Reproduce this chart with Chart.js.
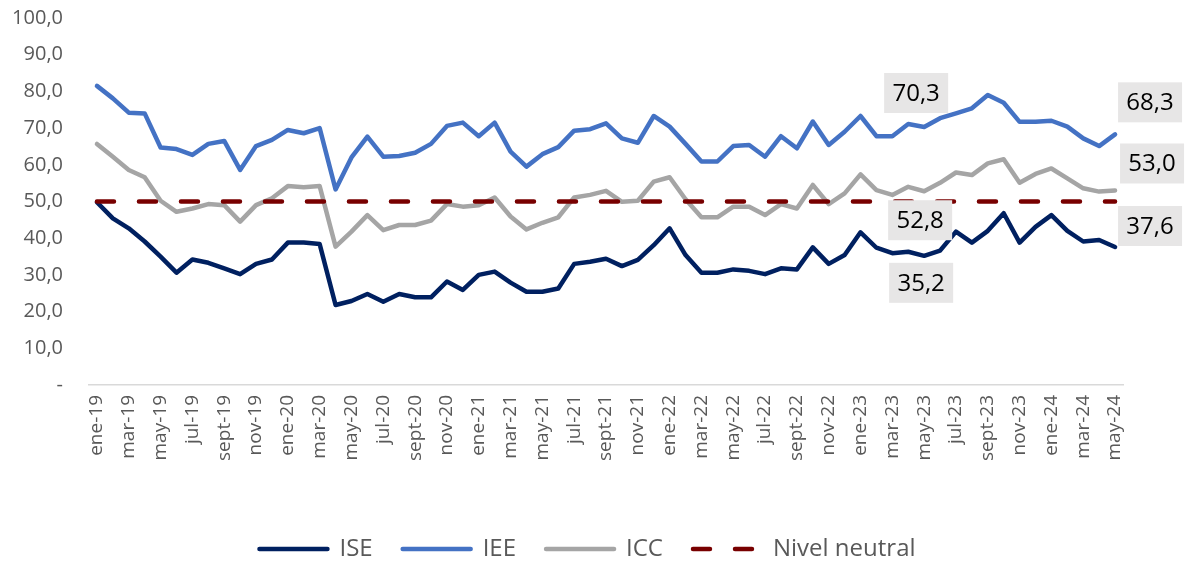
<!DOCTYPE html>
<html>
<head>
<meta charset="utf-8">
<script src="https://cdn.jsdelivr.net/npm/chart.js@4.4.1/dist/chart.umd.min.js"></script>
<style>
  html, body { margin: 0; padding: 0; background: #fff; }
  #wrap { width: 1186px; height: 563px; }
</style>
</head>
<body>
<div id="wrap"><canvas id="chart" width="1186" height="563"></canvas></div>
<script>
// meses ene-19 .. may-24
const meses = ['ene', 'feb', 'mar', 'abr', 'may', 'jun', 'jul', 'ago', 'sept', 'oct', 'nov', 'dic'];
const categorias = [];
for (let a = 19; a <= 24; a++) {
    for (let m = 0; m < 12; m++) {
        if (a === 24 && m > 4) break;
        categorias.push(meses[m] + '-' + a);
    }
}

const ise = [
    49.8, 45.4, 42.7, 39.1, 35.0, 30.6, 34.2, 33.3, 31.8, 30.2, 33.0, 34.2,
    38.8, 38.8, 38.4, 21.8, 22.9, 24.8, 22.7, 24.8, 23.9, 23.9, 28.2, 25.9,
    30.0, 30.9, 27.9, 25.4, 25.4, 26.3, 33.0, 33.6, 34.4, 32.4, 34.1, 38.1,
    42.7, 35.4, 30.6, 30.6, 31.5, 31.1, 30.2, 31.8, 31.5, 37.5, 33.0, 35.4,
    41.6, 37.4, 35.9, 36.3, 35.2, 36.6, 41.8, 38.8, 42.0, 46.8, 38.8, 43.1,
    46.3, 42.0, 39.1, 39.5, 37.6
];
const iee = [
    81.5, 78.1, 74.2, 74.0, 64.7, 64.3, 62.7, 65.7, 66.5, 58.6, 65.1, 66.8,
    69.5, 68.6, 70.0, 53.3, 62.0, 67.7, 62.2, 62.4, 63.3, 65.7, 70.6, 71.5,
    67.8, 71.5, 63.6, 59.5, 62.9, 64.8, 69.3, 69.7, 71.3, 67.2, 66.0, 73.3,
    70.4, 65.7, 60.9, 60.9, 65.1, 65.4, 62.2, 67.8, 64.5, 71.8, 65.4, 69.0,
    73.3, 67.8, 67.8, 71.1, 70.3, 72.7, 74.0, 75.4, 79.0, 76.9, 71.7, 71.7,
    72.0, 70.4, 67.2, 65.1, 68.3
];
const icc = [
    65.7, 62.2, 58.6, 56.6, 50.2, 47.2, 48.1, 49.3, 49.0, 44.5, 49.0, 50.9,
    54.2, 53.9, 54.2, 37.7, 41.8, 46.3, 42.2, 43.6, 43.6, 44.8, 49.3, 48.6,
    49.0, 51.1, 45.9, 42.4, 44.2, 45.7, 51.1, 51.8, 52.9, 49.9, 50.2, 55.4,
    56.6, 50.6, 45.7, 45.7, 48.6, 48.6, 46.3, 49.3, 48.1, 54.5, 49.3, 52.2,
    57.4, 53.1, 51.8, 54.0, 52.8, 55.1, 57.9, 57.2, 60.4, 61.5, 55.1, 57.5,
    59.0, 56.3, 53.6, 52.7, 53.0
];
const neutral = categorias.map(() => 50);

const yTicks = [0, 10, 20, 30, 40, 50, 60, 70, 80, 90, 100];

const fmt = v => v === 0 ? '-' : v.toFixed(1).replace('.', ',');

// etiquetas con fondo gris (dataset, índice, desplazamiento en px)
const etiquetas = [
    { ds: 1, i: 52, dx: -8, dy: -34 },
    { ds: 2, i: 52, dx: -4, dy: 29 },
    { ds: 0, i: 52, dx: -3, dy: 27 },
    { ds: 1, i: 64, dx: 35, dy: -32 },
    { ds: 2, i: 64, dx: 37, dy: -27 },
    { ds: 0, i: 64, dx: 35, dy: -21 }
];

const labelPlugin = {
    id: 'cajas',
    afterDatasetsDraw(chart) {
        const ctx = chart.ctx;
        ctx.save();
        ctx.font = '24px "Open Sans"';
        ctx.textAlign = 'center';
        ctx.textBaseline = 'middle';
        etiquetas.forEach(e => {
            const pt = chart.getDatasetMeta(e.ds).data[e.i];
            const val = chart.data.datasets[e.ds].data[e.i];
            const cx = pt.x + e.dx, cy = pt.y + e.dy;
            ctx.fillStyle = '#e7e6e6';
            ctx.fillRect(cx - 32, cy - 20, 64, 40);
            ctx.fillStyle = '#000';
            ctx.fillText(fmt(val), cx, cy + 1);
        });
        ctx.restore();
    }
};

const serie = (label, data, color) => ({
    label: label,
    data: data,
    borderColor: color,
    backgroundColor: color,
    borderWidth: 4.5,
    borderCapStyle: 'round',
    borderJoinStyle: 'round',
    pointRadius: 0,
    tension: 0,
    fill: false
});

const dsNeutral = serie('Nivel neutral', neutral, '#780000');
dsNeutral.borderDash = [17, 25];
dsNeutral.order = -1;

new Chart(document.getElementById('chart'), {
    type: 'line',
    data: {
        labels: categorias,
        datasets: [
            serie('ISE', ise, '#002060'),
            serie('IEE', iee, '#4472c4'),
            serie('ICC', icc, '#a5a5a5'),
            dsNeutral
        ]
    },
    options: {
        responsive: false,
        animation: false,
        layout: { padding: { left: 0, right: 11, top: 18, bottom: -8 } },
        plugins: {
            tooltip: { enabled: false },
            legend: {
                position: 'bottom',
                labels: {
                    usePointStyle: true,
                    pointStyle: 'line',
                    pointStyleWidth: 68,
                    padding: 30,
                    color: '#595959',
                    font: { family: 'Open Sans', size: 24 },
                    sort: (a, b) => a.datasetIndex - b.datasetIndex,
                    generateLabels(chart) {
                        const items = Chart.defaults.plugins.legend.labels.generateLabels(chart);
                        items.forEach(it => {
                            const ds = chart.data.datasets[it.datasetIndex];
                            it.lineDash = ds.borderDash || [];
                            it.lineCap = 'round';
                            it.lineWidth = ds.borderWidth;
                            it.strokeStyle = ds.borderColor;
                        });
                        return items;
                    }
                }
            }
        },
        scales: {
            x: {
                offset: true,
                grid: { display: false, drawTicks: false },
                border: { display: true, color: '#d9d9d9', width: 1.5 },
                ticks: {
                    autoSkip: false,
                    minRotation: 90,
                    maxRotation: 90,
                    padding: 10,
                    color: '#595959',
                    font: { family: 'Open Sans', size: 19 },
                    callback: (v, i) => i % 2 === 0 ? categorias[i] : ''
                },
                afterFit: s => { s.height = 122; }
            },
            y: {
                min: 0,
                max: 100,
                afterBuildTicks: s => { s.ticks = yTicks.map(v => ({ value: v })); },
                grid: { display: false, drawTicks: false },
                border: { display: false },
                ticks: {
                    padding: 26,
                    color: '#595959',
                    font: { family: 'Open Sans', size: 20 },
                    callback: v => fmt(v)
                },
                afterFit: s => {
                    s.width = 89;
                    s.paddingTop = 12;
                    s.paddingBottom = 12;
                }
            },
            // eje derecho vacío, solo reserva espacio
            y2: {
                type: 'linear',
                position: 'right',
                min: 0,
                max: 100,
                grid: { display: false, drawTicks: false },
                border: { display: false },
                ticks: { display: false },
                afterFit: s => {
                    s.width = 52;
                    s.paddingTop = 0;
                    s.paddingBottom = 0;
                }
            }
        }
    },
    plugins: [labelPlugin]
});
</script>
</body>
</html>
